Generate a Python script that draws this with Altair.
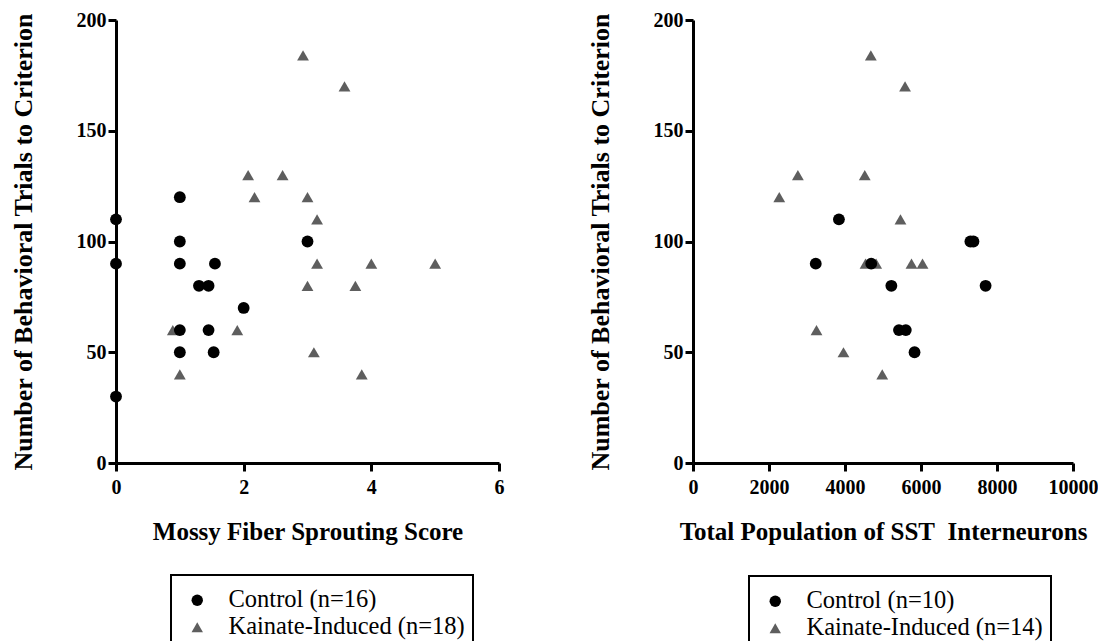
import altair as alt
import pandas as pd

# Left panel: Mossy Fiber Sprouting Score
mf_ctrl_x = [0, 0, 0, 1, 1, 1, 1, 1, 1.3, 1.45, 1.55, 1.45, 1.53, 2, 3]
mf_ctrl_y = [110, 90, 30, 120, 100, 90, 60, 50, 80, 80, 90, 60, 50, 70, 100]
mf_ka_x = [2.93, 3.58, 2.07, 2.61, 2.17, 3.0, 3.15, 3.15, 4.0, 5.0, 3.0, 3.75, 0.89, 1.9, 3.1, 1.0, 3.85]
mf_ka_y = [184, 170, 130, 130, 120, 120, 110, 90, 90, 90, 80, 80, 60, 60, 50, 40, 40]
mf_labels = ["Control (n=16)", "Kainate-Induced (n=18)"]
mf_xticks = [0, 2, 4, 6]

# Right panel: Total population of SST interneurons
sst_ctrl_x = [3840, 3230, 4690, 5220, 5420, 5600, 5830, 7300, 7380, 7700]
sst_ctrl_y = [110, 90, 90, 80, 60, 60, 50, 100, 100, 80]
sst_ka_x = [4680, 5580, 2760, 4520, 2270, 5460, 4540, 4820, 5750, 6040, 3250, 3960, 4980]
sst_ka_y = [184, 170, 130, 130, 120, 110, 90, 90, 90, 90, 60, 50, 40]
sst_labels = ["Control (n=10)", "Kainate-Induced (n=14)"]
sst_xticks = [0, 2000, 4000, 6000, 8000, 10000]

y_ticks = [0, 50, 100, 150, 200]
y_title = "Number of Behavioral Trials to Criterion"
colors = ["#000000", "#5e5e5e"]
shapes = ["circle", "triangle-up"]
FONT = "'Liberation Serif', 'Times New Roman', 'DejaVu Serif', serif"


def panel(xc, yc, xk, yk, labels, xtitle, xticks, lx, ly, w):
    df = pd.DataFrame({
        "x": xk + xc,
        "y": yk + yc,
        "group": [labels[1]] * len(xk) + [labels[0]] * len(xc),
        "ord": list(range(len(xk) + len(xc))),
    })
    leg = alt.Legend(
        orient="none", legendX=lx, legendY=ly, title=" ",
        titleFontSize=5, titlePadding=0,
        strokeColor="black", fillColor="white",
        padding=8, symbolOffset=6, symbolSize=130, symbolStrokeWidth=0,
        labelFont=FONT, labelFontSize=24.5, labelFontWeight="normal",
        labelColor="black", labelLimit=500, labelOffset=19, rowPadding=2,
    )
    return alt.Chart(df).mark_point(filled=True, opacity=1, size=140, strokeWidth=0).encode(
        x=alt.X("x:Q", scale=alt.Scale(domain=[xticks[0], xticks[-1]], nice=False),
                axis=alt.Axis(values=xticks, title=xtitle, format="d", labelFlush=False)),
        y=alt.Y("y:Q", scale=alt.Scale(domain=[0, 200], nice=False),
                axis=alt.Axis(values=y_ticks, title=y_title)),
        shape=alt.Shape("group:N", scale=alt.Scale(domain=labels, range=shapes), legend=leg),
        color=alt.Color("group:N", scale=alt.Scale(domain=labels, range=colors), legend=leg),
        order=alt.Order("ord:Q"),
    ).properties(width=w, height=443)


left = panel(mf_ctrl_x, mf_ctrl_y, mf_ka_x, mf_ka_y, mf_labels,
             "Mossy Fiber Sprouting Score", mf_xticks, 55, 555, 383)
right = panel(sst_ctrl_x, sst_ctrl_y, sst_ka_x, sst_ka_y, sst_labels,
              "Total Population of SST\u00a0 Interneurons", sst_xticks, 56, 556, 380)

chart = alt.hconcat(left, right, spacing=83).resolve_scale(
    shape="independent", color="independent"
).properties(
    padding={"left": 2, "top": 2, "right": 0, "bottom": 0}
).configure_view(stroke=None).configure_legend(
    strokeWidth=2,
).configure_axis(
    grid=False,
    domainColor="black", domainWidth=3,
    tickColor="black", tickWidth=3, tickSize=8,
    labelFont=FONT, labelFontSize=20, labelFontWeight="bold", labelColor="black",
    titleFont=FONT, titleFontWeight="bold", titleColor="black",
).configure_axisX(
    labelPadding=6, titlePadding=22, titleFontSize=25,
).configure_axisY(
    labelPadding=2, titlePadding=40, titleFontSize=26,
)

chart.save("out.html", embed_options={"renderer": "svg", "actions": False})
